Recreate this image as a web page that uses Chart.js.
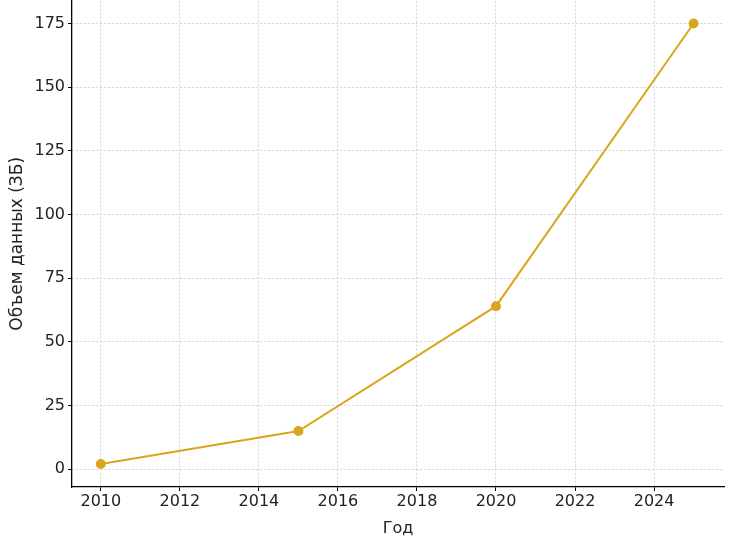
<!DOCTYPE html>
<html>
<head>
<meta charset="utf-8">
<script src="https://cdn.jsdelivr.net/npm/chart.js@4/dist/chart.umd.min.js"></script>
<style>
  html, body { margin: 0; padding: 0; background: #fff; }
  #wrap { width: 733px; height: 543px; overflow: hidden; }
  #inner { width: 733px; height: 555px; margin-top: -12px; }
</style>
</head>
<body>
<div id="wrap"><div id="inner"><canvas id="dataChart"></canvas></div></div>
<script>
const years = [2010, 2015, 2020, 2025];
const volumes = [2, 15, 64, 175];
const xTicks = [2010, 2012, 2014, 2016, 2018, 2020, 2022, 2024];
const yTicks = [0, 25, 50, 75, 100, 125, 150, 175];

const lineColor = "#DAA520";
const gridColor = "#d4d4d4";

const points = years.map((year, i) => ({ x: year, y: volumes[i] }));

new Chart(document.getElementById("dataChart"), {
  type: "line",
  data: {
    datasets: [
      {
        data: points,
        borderColor: lineColor,
        backgroundColor: lineColor,
        borderWidth: 2,
        pointRadius: 4,
        pointHoverRadius: 4,
        tension: 0
      }
    ]
  },
  options: {
    responsive: true,
    maintainAspectRatio: false,
    animation: false,
    layout: { padding: { top: 0, right: 9, left: 0, bottom: 0 } },
    plugins: {
      legend: { display: false },
      tooltip: { enabled: false }
    },
    scales: {
      x: {
        type: "linear",
        min: 2009.27,
        max: 2025.77,
        afterBuildTicks: (scale) => {
          scale.ticks = xTicks.map((v) => ({ value: v }));
        },
        afterFit: (scale) => { scale.height = 56; },
        border: { color: "#000", width: 1.3, dash: [2, 2] },
        grid: {
          color: gridColor,
          tickColor: "#000",
          tickLength: 4,
          tickBorderDash: []
        },
        ticks: {
          color: "#222",
          font: { family: "DejaVu Sans", size: 16 },
          padding: 1,
          callback: (v) => String(v)
        },
        title: {
          display: true,
          text: "Год",
          color: "#222",
          font: { family: "DejaVu Sans", size: 16 },
          padding: { top: 0, bottom: 5 }
        }
      },
      y: {
        min: -7,
        max: 184,
        afterBuildTicks: (scale) => {
          scale.ticks = yTicks.map((v) => ({ value: v }));
        },
        afterFit: (scale) => { scale.width = 72; },
        border: { color: "#000", width: 1.3, dash: [2, 2] },
        grid: {
          color: gridColor,
          tickColor: "#000",
          tickLength: 4,
          tickBorderDash: []
        },
        ticks: {
          color: "#222",
          font: { family: "DejaVu Sans", size: 16 },
          padding: 3
        },
        title: {
          display: true,
          text: "Объем данных (ЗБ)",
          color: "#222",
          font: { family: "DejaVu Sans", size: 17 },
          padding: { top: 7, bottom: 0 }
        }
      }
    }
  }
});
</script>
</body>
</html>
